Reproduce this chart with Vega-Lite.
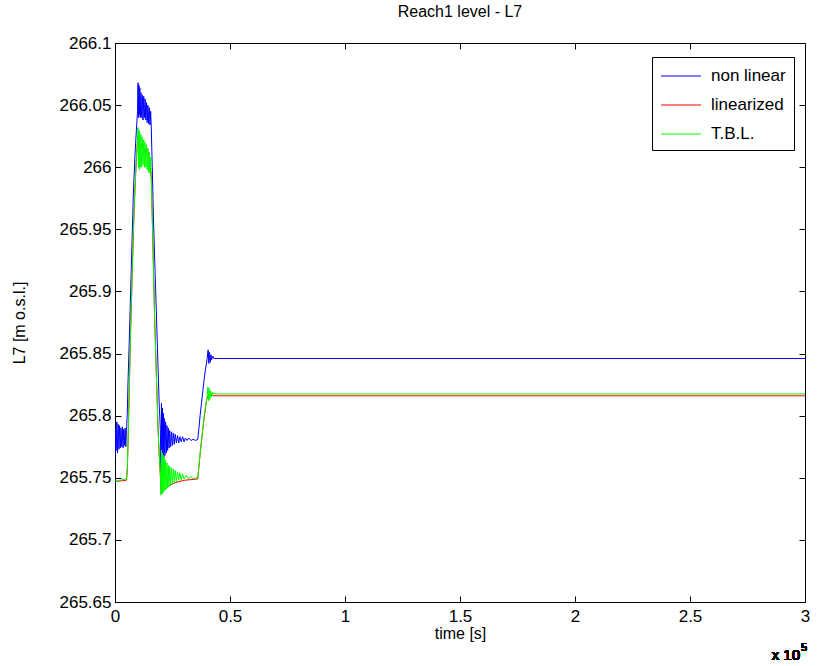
{
  "$schema": "https://vega.github.io/schema/vega-lite/v6.json",
  "width": 690,
  "height": 559,
  "autosize": {"type": "none"},
  "padding": {"left": 115, "top": 43, "right": 16, "bottom": 64},
  "background": "white",
  "title": {"text": "Reach1 level - L7", "fontSize": 16, "fontWeight": "normal", "font": "Liberation Sans", "color": "black", "offset": 14, "anchor": "middle"},
  "config": {
    "font": "Liberation Sans",
    "view": {"stroke": "black", "strokeWidth": 1},
    "axis": {"domain": false, "grid": false, "ticks": true, "tickColor": "black", "tickSize": -6, "labelColor": "black", "labelFont": "Liberation Sans", "labelFontSize": 17, "titleFont": "Liberation Sans", "titleFontSize": 16, "titleFontWeight": "normal", "titleColor": "black", "labelOverlap": false, "labelFlush": false}
  },
  "datasets": {
    "d": [
      {"s":"non linear","t":0,"v":265.765},{"s":"non linear","t":0.002,"v":265.79},{"s":"non linear","t":0.005,"v":265.772},{"s":"non linear","t":0.008,"v":265.795},{"s":"non linear","t":0.011,"v":265.77},{"s":"non linear","t":0.014,"v":265.793},{"s":"non linear","t":0.017,"v":265.773},{"s":"non linear","t":0.02,"v":265.792},{"s":"non linear","t":0.023,"v":265.774},{"s":"non linear","t":0.026,"v":265.79},{"s":"non linear","t":0.029,"v":265.775},{"s":"non linear","t":0.032,"v":265.791},{"s":"non linear","t":0.035,"v":265.774},{"s":"non linear","t":0.038,"v":265.789},{"s":"non linear","t":0.041,"v":265.776},{"s":"non linear","t":0.044,"v":265.79},{"s":"non linear","t":0.047,"v":265.775},{"s":"non linear","t":0.05,"v":265.788},
      {"s":"non linear","t":0.053,"v":265.8},{"s":"non linear","t":0.057,"v":265.83},{"s":"non linear","t":0.062,"v":265.86},{"s":"non linear","t":0.068,"v":265.9},{"s":"non linear","t":0.074,"v":265.94},{"s":"non linear","t":0.08,"v":265.98},{"s":"non linear","t":0.087,"v":266.01},{"s":"non linear","t":0.093,"v":266.03},{"s":"non linear","t":0.098,"v":266.045},
      {"s":"non linear","t":0.1,"v":266.068},{"s":"non linear","t":0.102,"v":266.04},{"s":"non linear","t":0.104,"v":266.066},{"s":"non linear","t":0.106,"v":266.042},{"s":"non linear","t":0.108,"v":266.064},{"s":"non linear","t":0.11,"v":266.04},{"s":"non linear","t":0.113,"v":266.06},{"s":"non linear","t":0.116,"v":266.04},{"s":"non linear","t":0.119,"v":266.058},{"s":"non linear","t":0.122,"v":266.038},{"s":"non linear","t":0.125,"v":266.057},{"s":"non linear","t":0.128,"v":266.04},{"s":"non linear","t":0.131,"v":266.055},{"s":"non linear","t":0.134,"v":266.038},{"s":"non linear","t":0.137,"v":266.052},{"s":"non linear","t":0.14,"v":266.036},{"s":"non linear","t":0.143,"v":266.05},{"s":"non linear","t":0.146,"v":266.035},{"s":"non linear","t":0.149,"v":266.048},{"s":"non linear","t":0.152,"v":266.034},{"s":"non linear","t":0.155,"v":266.045},{"s":"non linear","t":0.158,"v":266.03},
      {"s":"non linear","t":0.162,"v":266.0},{"s":"non linear","t":0.167,"v":265.96},{"s":"non linear","t":0.172,"v":265.93},{"s":"non linear","t":0.177,"v":265.9},{"s":"non linear","t":0.182,"v":265.87},{"s":"non linear","t":0.187,"v":265.84},{"s":"non linear","t":0.192,"v":265.81},{"s":"non linear","t":0.197,"v":265.79},
      {"s":"non linear","t":0.2,"v":265.755},{"s":"non linear","t":0.202,"v":265.81},{"s":"non linear","t":0.204,"v":265.758},{"s":"non linear","t":0.206,"v":265.806},{"s":"non linear","t":0.208,"v":265.762},{"s":"non linear","t":0.21,"v":265.802},{"s":"non linear","t":0.212,"v":265.765},{"s":"non linear","t":0.214,"v":265.798},{"s":"non linear","t":0.217,"v":265.768},{"s":"non linear","t":0.22,"v":265.795},{"s":"non linear","t":0.223,"v":265.77},{"s":"non linear","t":0.226,"v":265.792},{"s":"non linear","t":0.229,"v":265.772},{"s":"non linear","t":0.232,"v":265.79},{"s":"non linear","t":0.235,"v":265.774},{"s":"non linear","t":0.238,"v":265.788},{"s":"non linear","t":0.242,"v":265.775},{"s":"non linear","t":0.246,"v":265.787},{"s":"non linear","t":0.25,"v":265.776},{"s":"non linear","t":0.254,"v":265.786},{"s":"non linear","t":0.258,"v":265.777},{"s":"non linear","t":0.262,"v":265.785},{"s":"non linear","t":0.267,"v":265.778},{"s":"non linear","t":0.272,"v":265.784},{"s":"non linear","t":0.277,"v":265.778},{"s":"non linear","t":0.282,"v":265.783},{"s":"non linear","t":0.288,"v":265.779},{"s":"non linear","t":0.294,"v":265.783},{"s":"non linear","t":0.3,"v":265.779},{"s":"non linear","t":0.306,"v":265.782},{"s":"non linear","t":0.313,"v":265.78},{"s":"non linear","t":0.32,"v":265.782},{"s":"non linear","t":0.33,"v":265.78},{"s":"non linear","t":0.34,"v":265.781},{"s":"non linear","t":0.35,"v":265.78},{"s":"non linear","t":0.36,"v":265.781},
      {"s":"non linear","t":0.365,"v":265.79},{"s":"non linear","t":0.37,"v":265.8},{"s":"non linear","t":0.376,"v":265.81},{"s":"non linear","t":0.382,"v":265.82},{"s":"non linear","t":0.388,"v":265.83},{"s":"non linear","t":0.394,"v":265.838},{"s":"non linear","t":0.4,"v":265.845},
      {"s":"non linear","t":0.405,"v":265.853},{"s":"non linear","t":0.408,"v":265.842},{"s":"non linear","t":0.411,"v":265.851},{"s":"non linear","t":0.414,"v":265.843},{"s":"non linear","t":0.417,"v":265.849},{"s":"non linear","t":0.42,"v":265.845},{"s":"non linear","t":0.425,"v":265.848},{"s":"non linear","t":0.43,"v":265.846},{"s":"non linear","t":3.0,"v":265.846},

      {"s":"linearized","t":0,"v":265.747},{"s":"linearized","t":0.05,"v":265.748},{"s":"linearized","t":0.054,"v":265.758},{"s":"linearized","t":0.058,"v":265.788},{"s":"linearized","t":0.063,"v":265.828},{"s":"linearized","t":0.068,"v":265.868},{"s":"linearized","t":0.074,"v":265.908},{"s":"linearized","t":0.08,"v":265.948},{"s":"linearized","t":0.086,"v":265.978},{"s":"linearized","t":0.092,"v":266.003},{"s":"linearized","t":0.097,"v":266.018},
      {"s":"linearized","t":0.1,"v":266.025},{"s":"linearized","t":0.11,"v":266.015},{"s":"linearized","t":0.12,"v":266.02},{"s":"linearized","t":0.13,"v":266.012},{"s":"linearized","t":0.14,"v":266.015},{"s":"linearized","t":0.15,"v":266.008},{"s":"linearized","t":0.158,"v":265.99},
      {"s":"linearized","t":0.162,"v":265.96},{"s":"linearized","t":0.167,"v":265.92},{"s":"linearized","t":0.172,"v":265.88},{"s":"linearized","t":0.177,"v":265.85},{"s":"linearized","t":0.182,"v":265.82},{"s":"linearized","t":0.187,"v":265.79},{"s":"linearized","t":0.192,"v":265.77},{"s":"linearized","t":0.197,"v":265.752},
      {"s":"linearized","t":0.2,"v":265.737},{"s":"linearized","t":0.21,"v":265.74},{"s":"linearized","t":0.23,"v":265.743},{"s":"linearized","t":0.26,"v":265.746},{"s":"linearized","t":0.3,"v":265.748},{"s":"linearized","t":0.36,"v":265.749},
      {"s":"linearized","t":0.365,"v":265.759},{"s":"linearized","t":0.37,"v":265.769},{"s":"linearized","t":0.376,"v":265.779},{"s":"linearized","t":0.382,"v":265.789},{"s":"linearized","t":0.388,"v":265.799},{"s":"linearized","t":0.394,"v":265.807},{"s":"linearized","t":0.4,"v":265.814},{"s":"linearized","t":0.41,"v":265.818},{"s":"linearized","t":0.43,"v":265.816},{"s":"linearized","t":3.0,"v":265.816},

      {"s":"T.B.L.","t":0,"v":265.747},{"s":"T.B.L.","t":0.02,"v":265.748},{"s":"T.B.L.","t":0.05,"v":265.749},
      {"s":"T.B.L.","t":0.054,"v":265.76},{"s":"T.B.L.","t":0.058,"v":265.79},{"s":"T.B.L.","t":0.063,"v":265.83},{"s":"T.B.L.","t":0.068,"v":265.87},{"s":"T.B.L.","t":0.074,"v":265.91},{"s":"T.B.L.","t":0.08,"v":265.95},{"s":"T.B.L.","t":0.086,"v":265.98},{"s":"T.B.L.","t":0.092,"v":266.005},{"s":"T.B.L.","t":0.097,"v":266.02},
      {"s":"T.B.L.","t":0.1,"v":266.032},{"s":"T.B.L.","t":0.102,"v":266.0},{"s":"T.B.L.","t":0.104,"v":266.03},{"s":"T.B.L.","t":0.106,"v":265.998},{"s":"T.B.L.","t":0.108,"v":266.028},{"s":"T.B.L.","t":0.11,"v":266.0},{"s":"T.B.L.","t":0.113,"v":266.026},{"s":"T.B.L.","t":0.116,"v":266.0},{"s":"T.B.L.","t":0.119,"v":266.024},{"s":"T.B.L.","t":0.122,"v":266.002},{"s":"T.B.L.","t":0.125,"v":266.022},{"s":"T.B.L.","t":0.128,"v":266.0},{"s":"T.B.L.","t":0.131,"v":266.02},{"s":"T.B.L.","t":0.134,"v":266.0},{"s":"T.B.L.","t":0.137,"v":266.018},{"s":"T.B.L.","t":0.14,"v":265.998},{"s":"T.B.L.","t":0.143,"v":266.015},{"s":"T.B.L.","t":0.146,"v":265.996},{"s":"T.B.L.","t":0.149,"v":266.012},{"s":"T.B.L.","t":0.152,"v":265.995},{"s":"T.B.L.","t":0.155,"v":266.008},{"s":"T.B.L.","t":0.158,"v":265.99},
      {"s":"T.B.L.","t":0.162,"v":265.96},{"s":"T.B.L.","t":0.167,"v":265.92},{"s":"T.B.L.","t":0.172,"v":265.88},{"s":"T.B.L.","t":0.177,"v":265.85},{"s":"T.B.L.","t":0.182,"v":265.82},{"s":"T.B.L.","t":0.187,"v":265.79},{"s":"T.B.L.","t":0.192,"v":265.77},{"s":"T.B.L.","t":0.197,"v":265.755},
      {"s":"T.B.L.","t":0.2,"v":265.736},{"s":"T.B.L.","t":0.202,"v":265.772},{"s":"T.B.L.","t":0.204,"v":265.737},{"s":"T.B.L.","t":0.206,"v":265.77},{"s":"T.B.L.","t":0.208,"v":265.738},{"s":"T.B.L.","t":0.21,"v":265.768},{"s":"T.B.L.","t":0.212,"v":265.739},{"s":"T.B.L.","t":0.214,"v":265.766},{"s":"T.B.L.","t":0.217,"v":265.74},{"s":"T.B.L.","t":0.22,"v":265.764},{"s":"T.B.L.","t":0.223,"v":265.741},{"s":"T.B.L.","t":0.226,"v":265.762},{"s":"T.B.L.","t":0.229,"v":265.742},{"s":"T.B.L.","t":0.232,"v":265.76},{"s":"T.B.L.","t":0.235,"v":265.743},{"s":"T.B.L.","t":0.238,"v":265.759},{"s":"T.B.L.","t":0.242,"v":265.744},{"s":"T.B.L.","t":0.246,"v":265.758},{"s":"T.B.L.","t":0.25,"v":265.745},{"s":"T.B.L.","t":0.254,"v":265.757},{"s":"T.B.L.","t":0.258,"v":265.746},{"s":"T.B.L.","t":0.262,"v":265.756},{"s":"T.B.L.","t":0.267,"v":265.747},{"s":"T.B.L.","t":0.272,"v":265.755},{"s":"T.B.L.","t":0.277,"v":265.748},{"s":"T.B.L.","t":0.282,"v":265.754},{"s":"T.B.L.","t":0.288,"v":265.748},{"s":"T.B.L.","t":0.294,"v":265.753},{"s":"T.B.L.","t":0.3,"v":265.749},{"s":"T.B.L.","t":0.31,"v":265.752},{"s":"T.B.L.","t":0.32,"v":265.749},{"s":"T.B.L.","t":0.33,"v":265.751},{"s":"T.B.L.","t":0.34,"v":265.749},{"s":"T.B.L.","t":0.35,"v":265.75},{"s":"T.B.L.","t":0.36,"v":265.75},
      {"s":"T.B.L.","t":0.365,"v":265.76},{"s":"T.B.L.","t":0.37,"v":265.77},{"s":"T.B.L.","t":0.376,"v":265.78},{"s":"T.B.L.","t":0.382,"v":265.79},{"s":"T.B.L.","t":0.388,"v":265.8},{"s":"T.B.L.","t":0.394,"v":265.808},{"s":"T.B.L.","t":0.4,"v":265.815},
      {"s":"T.B.L.","t":0.404,"v":265.823},{"s":"T.B.L.","t":0.407,"v":265.812},{"s":"T.B.L.","t":0.41,"v":265.822},{"s":"T.B.L.","t":0.413,"v":265.813},{"s":"T.B.L.","t":0.416,"v":265.82},{"s":"T.B.L.","t":0.42,"v":265.815},{"s":"T.B.L.","t":0.425,"v":265.819},{"s":"T.B.L.","t":0.43,"v":265.8175},{"s":"T.B.L.","t":3.0,"v":265.8175}
    ]
  },
  "data": {"name": "d"},
  "resolve": {"axis": {"x": "independent", "y": "independent"}},
  "layer": [
    {
      "transform": [{"filter": "datum.s === 'non linear'"}],
      "mark": {"type": "line", "strokeWidth": 1, "clip": true},
      "encoding": {
        "x": {"field": "t", "type": "quantitative", "scale": {"domain": [0, 3], "nice": false, "zero": false},
          "axis": {"orient": "bottom", "values": [0, 0.5, 1, 1.5, 2, 2.5, 3], "format": "~f", "title": "time [s]", "labelPadding": 12, "titlePadding": 1}},
        "y": {"field": "v", "type": "quantitative", "scale": {"domain": [265.65, 266.1], "nice": false, "zero": false},
          "axis": {"orient": "left", "values": [265.65, 265.7, 265.75, 265.8, 265.85, 265.9, 265.95, 266, 266.05, 266.1], "format": "~f", "title": "L7 [m o.s.l.]", "labelPadding": 10, "titlePadding": 32}},
        "color": {"field": "s", "type": "nominal",
          "scale": {"domain": ["non linear", "linearized", "T.B.L."], "range": ["#0000ff", "#ff0000", "#00ff00"]},
          "legend": {"title": null, "orient": "none", "legendX": 537, "legendY": 14, "symbolType": "M-2,0H2", "symbolSize": 400, "symbolOffset": 10, "symbolStrokeWidth": 1.2, "labelFontSize": 17, "labelFont": "Liberation Sans", "labelColor": "black", "rowPadding": 10, "padding": 8, "strokeColor": "black", "fillColor": "white", "cornerRadius": 0, "labelOffset": 19}}
      }
    },
    {
      "transform": [{"filter": "datum.s === 'linearized'"}],
      "mark": {"type": "line", "strokeWidth": 1, "clip": true},
      "encoding": {
        "x": {"field": "t", "type": "quantitative", "axis": {"orient": "top", "values": [0, 0.5, 1, 1.5, 2, 2.5, 3], "labels": false, "title": null}},
        "y": {"field": "v", "type": "quantitative", "axis": {"orient": "right", "values": [265.65, 265.7, 265.75, 265.8, 265.85, 265.9, 265.95, 266, 266.05, 266.1], "labels": false, "title": null}},
        "color": {"field": "s", "type": "nominal"}
      }
    },
    {
      "transform": [{"filter": "datum.s === 'T.B.L.'"}],
      "mark": {"type": "line", "strokeWidth": 1, "clip": true},
      "encoding": {
        "x": {"field": "t", "type": "quantitative", "axis": null},
        "y": {"field": "v", "type": "quantitative", "axis": null},
        "color": {"field": "s", "type": "nominal"}
      }
    },
    {
      "mark": {"type": "text", "align": "right", "baseline": "alphabetic", "fontSize": 15, "fontWeight": 400, "font": "Liberation Sans", "color": "black", "dx": -5, "dy": 58},
      "encoding": {
        "x": {"datum": 3, "type": "quantitative", "axis": null},
        "y": {"datum": 265.65, "type": "quantitative", "axis": null},
        "text": {"value": "x 10"}
      }
    },
    {
      "mark": {"type": "text", "align": "left", "baseline": "alphabetic", "fontSize": 11, "fontWeight": 400, "font": "Liberation Sans", "color": "black", "dx": -4, "dy": 49},
      "encoding": {
        "x": {"datum": 3, "type": "quantitative", "axis": null},
        "y": {"datum": 265.65, "type": "quantitative", "axis": null},
        "text": {"value": "5"}
      }
    }
  ]
}
